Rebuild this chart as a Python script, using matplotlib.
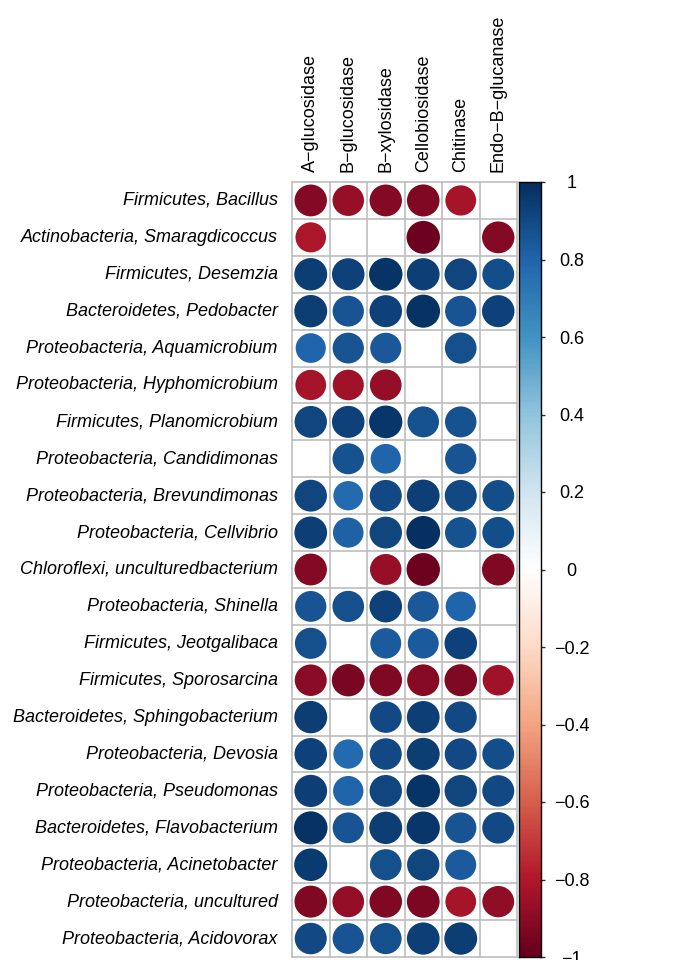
import numpy as np
import matplotlib
matplotlib.use("Agg")
import matplotlib.pyplot as plt
import matplotlib.patches as patches
from matplotlib.colors import LinearSegmentedColormap, Normalize

plt.rcParams['font.family'] = ['Liberation Sans', 'DejaVu Sans']

# enzymes (columns) and taxa (rows)
enzymes = ['A\u2212glucosidase', 'B\u2212glucosidase', 'B\u2212xylosidase',
           'Cellobiosidase', 'Chitinase', 'Endo\u2212B\u2212glucanase']
taxa = [
    'Firmicutes, Bacillus',
    'Actinobacteria, Smaragdicoccus',
    'Firmicutes, Desemzia',
    'Bacteroidetes, Pedobacter',
    'Proteobacteria, Aquamicrobium',
    'Proteobacteria, Hyphomicrobium',
    'Firmicutes, Planomicrobium',
    'Proteobacteria, Candidimonas',
    'Proteobacteria, Brevundimonas',
    'Proteobacteria, Cellvibrio',
    'Chloroflexi, unculturedbacterium',
    'Proteobacteria, Shinella',
    'Firmicutes, Jeotgalibaca',
    'Firmicutes, Sporosarcina',
    'Bacteroidetes, Sphingobacterium',
    'Proteobacteria, Devosia',
    'Proteobacteria, Pseudomonas',
    'Bacteroidetes, Flavobacterium',
    'Proteobacteria, Acinetobacter',
    'Proteobacteria, uncultured',
    'Proteobacteria, Acidovorax',
]

nan = np.nan
# correlation coefficients, one row per taxon (blank = not significant)
corr = np.array([
    [-0.92, -0.87, -0.92, -0.93, -0.83, nan],
    [-0.82, nan, nan, -0.98, nan, -0.92],
    [0.95, 0.93, 0.98, 0.94, 0.92, 0.89],
    [0.95, 0.86, 0.93, 0.99, 0.86, 0.93],
    [0.80, 0.86, 0.85, nan, 0.88, nan],
    [-0.83, -0.85, -0.88, nan, nan, nan],
    [0.92, 0.93, 0.97, 0.87, 0.87, nan],
    [nan, 0.87, 0.80, nan, 0.86, nan],
    [0.92, 0.78, 0.90, 0.94, 0.90, 0.89],
    [0.94, 0.82, 0.92, 1.00, 0.87, 0.89],
    [-0.92, nan, -0.87, -0.98, nan, -0.93],
    [0.86, 0.88, 0.93, 0.85, 0.80, nan],
    [0.88, nan, 0.84, 0.84, 0.93, nan],
    [-0.90, -0.95, -0.93, -0.91, -0.93, -0.85],
    [0.95, nan, 0.90, 0.94, 0.90, nan],
    [0.93, 0.78, 0.90, 0.95, 0.90, 0.89],
    [0.94, 0.81, 0.92, 0.98, 0.92, 0.90],
    [0.99, 0.86, 0.95, 0.97, 0.86, 0.90],
    [0.96, nan, 0.88, 0.92, 0.84, nan],
    [-0.93, -0.88, -0.93, -0.94, -0.83, -0.89],
    [0.90, 0.86, 0.88, 0.94, 0.95, nan],
])

cbar_ticks = np.round(np.arange(-1, 1.01, 0.2), 1)

# RdBu palette as used by corrplot
cmap = LinearSegmentedColormap.from_list('corr_rdbu', [
    '#67001F', '#B2182B', '#D6604D', '#F4A582', '#FDDBC7', '#FFFFFF',
    '#D1E5F0', '#92C5DE', '#4393C3', '#2166AC', '#053061'])
norm = Normalize(-1, 1)

W, H = 678, 960
fig = plt.figure(figsize=(W / 100, H / 100), dpi=100)

gx0, gx1, gy0, gy1 = 292, 517, 182, 957
ax = fig.add_axes([gx0 / W, 1 - gy1 / H, (gx1 - gx0) / W, (gy1 - gy0) / H])
nrow, ncol = corr.shape
ax.set_xlim(0, ncol)
ax.set_ylim(nrow, 0)
ax.axis('off')

grid_col = '#BEBEBE'
for i in range(nrow + 1):
    ax.plot([0, ncol], [i, i], color=grid_col, lw=1.2, clip_on=False, zorder=1)
for j in range(ncol + 1):
    ax.plot([j, j], [0, nrow], color=grid_col, lw=1.2, clip_on=False, zorder=1)

for i in range(nrow):
    for j in range(ncol):
        r = corr[i, j]
        if np.isnan(r):
            continue
        circ = patches.Circle((j + 0.5, i + 0.5), radius=0.45 * np.sqrt(abs(r)),
                              facecolor=cmap(norm(r)), edgecolor='none', zorder=2)
        ax.add_patch(circ)

for i, name in enumerate(taxa):
    ax.text(-0.38, i + 0.5, name, ha='right', va='center', fontsize=13,
            style='italic')
for j, name in enumerate(enzymes):
    ax.text(j + 0.5, -0.27, name, ha='center', va='bottom', rotation=90,
            fontsize=13)

# colour legend
cx0, cx1 = 519, 541
cax = fig.add_axes([cx0 / W, 1 - gy1 / H, (cx1 - cx0) / W, (gy1 - gy0) / H])
grad = np.linspace(1, -1, 400).reshape(-1, 1)
cax.imshow(grad, aspect='auto', cmap=cmap, norm=norm, extent=[0, 1, -1, 1])
cax.set_xlim(0, 1)
cax.set_ylim(-1, 1)
cax.set_xticks([])
cax.yaxis.tick_right()
cax.set_yticks(cbar_ticks)
cax.set_yticklabels([('%g' % t).replace('-', '\u2212') if t != 0 else '0'
                     for t in cbar_ticks])
cax.tick_params(axis='y', length=3, width=1, labelsize=13, pad=19,
                color='#333333')
for lab in cax.get_yticklabels():
    lab.set_horizontalalignment('center')
for sp in cax.spines.values():
    sp.set_linewidth(1)

fig.savefig('out.png', dpi=100)
